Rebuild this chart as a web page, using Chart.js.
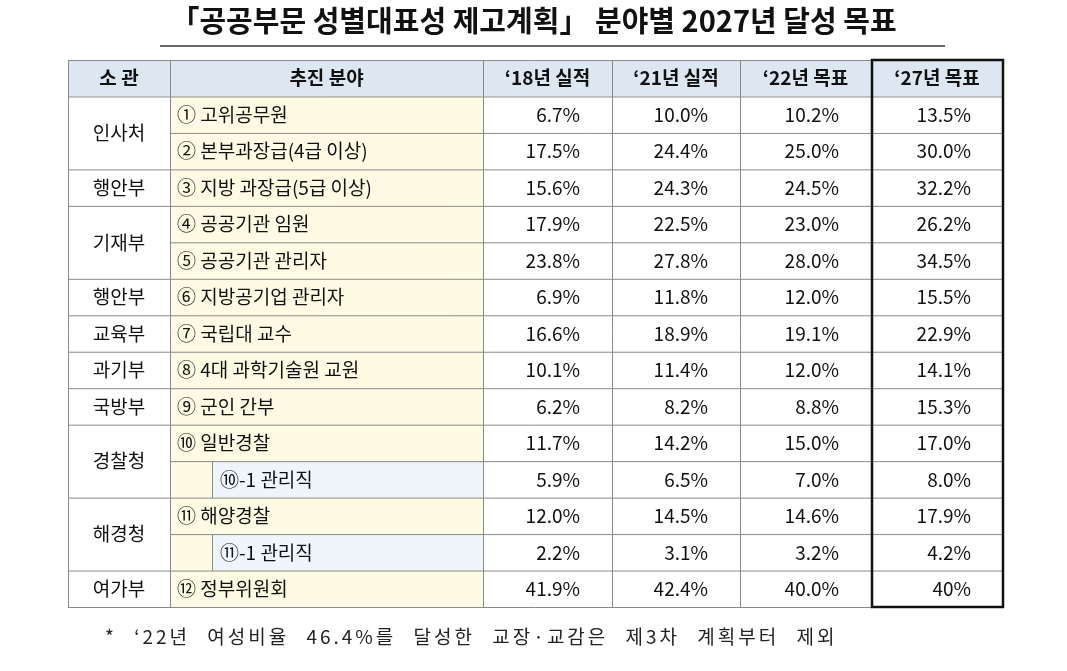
<!DOCTYPE html>
<html>
<head>
<meta charset="utf-8">
<script src="https://cdn.jsdelivr.net/npm/chart.js@4"></script>
<style>
  body { margin: 0; background: #fff; }
  #wrap { width: 1067px; height: 671px; }
</style>
</head>
<body>
<div id="wrap"><canvas id="tbl" width="1067" height="671"></canvas></div>
<script>
// table content
const headers = ['소 관', '추진 분야', '‘18년 실적', '‘21년 실적', '‘22년 목표', '‘27년 목표'];
const agencies = ['인사처', '행안부', '기재부', '행안부', '교육부', '과기부', '국방부', '경찰청', '해경청', '여가부'];
const agencySpans = [2, 1, 2, 1, 1, 1, 1, 2, 2, 1];
const fields = ['① 고위공무원', '② 본부과장급(4급 이상)', '③ 지방 과장급(5급 이상)', '④ 공공기관 임원',
  '⑤ 공공기관 관리자', '⑥ 지방공기업 관리자', '⑦ 국립대 교수', '⑧ 4대 과학기술원 교원', '⑨ 군인 간부',
  '⑩ 일반경찰', '⑩-1 관리직', '⑪ 해양경찰', '⑪-1 관리직', '⑫ 정부위원회'];
const subRow = [0, 0, 0, 0, 0, 0, 0, 0, 0, 0, 1, 0, 1, 0];
const y18 = ['6.7%', '17.5%', '15.6%', '17.9%', '23.8%', '6.9%', '16.6%', '10.1%', '6.2%', '11.7%', '5.9%', '12.0%', '2.2%', '41.9%'];
const y21 = ['10.0%', '24.4%', '24.3%', '22.5%', '27.8%', '11.8%', '18.9%', '11.4%', '8.2%', '14.2%', '6.5%', '14.5%', '3.1%', '42.4%'];
const y22 = ['10.2%', '25.0%', '24.5%', '23.0%', '28.0%', '12.0%', '19.1%', '12.0%', '8.8%', '15.0%', '7.0%', '14.6%', '3.2%', '40.0%'];
const y27 = ['13.5%', '30.0%', '32.2%', '26.2%', '34.5%', '15.5%', '22.9%', '14.1%', '15.3%', '17.0%', '8.0%', '17.9%', '4.2%', '40%'];
const footnote = '* ‘22년 여성비율 46.4%를 달성한 교장·교감은 제3차 계획부터 제외';

// layout (x edges in x-scale units, rows in y-scale units)
const colEdges = [68, 170, 483, 612, 740, 871, 1003];
const FONT = '"Noto Sans CJK KR", "Noto Sans", sans-serif';

const tablePlugin = {
  id: 'tablePlugin',
  afterDraw(chart) {
    const c = chart.ctx, xs = chart.scales.x, ys = chart.scales.y;
    const X = v => xs.getPixelForValue(v);
    const Y = v => ys.getPixelForValue(v);   // row index: -1 = header, 0..13 data
    const n = fields.length;
    c.save();
    // fills
    c.fillStyle = '#dde7f1';
    c.fillRect(X(colEdges[0]), Y(-1), X(colEdges[6]) - X(colEdges[0]), Y(0) - Y(-1));
    for (let i = 0; i < n; i++) {
      c.fillStyle = '#fdfbe3';
      c.fillRect(X(colEdges[1]), Y(i), X(colEdges[2]) - X(colEdges[1]), Y(i + 1) - Y(i));
      if (subRow[i]) {
        c.fillStyle = '#eef5fb';
        c.fillRect(X(212), Y(i), X(colEdges[2]) - X(212), Y(i + 1) - Y(i));
      }
    }
    // grid lines
    c.strokeStyle = '#8a8a8a'; c.lineWidth = 1;
    c.beginPath();
    colEdges.forEach(e => { c.moveTo(X(e) + 0.5, Y(-1)); c.lineTo(X(e) + 0.5, Y(n)); });
    c.moveTo(X(colEdges[0]), Y(-1) + 0.5); c.lineTo(X(colEdges[6]), Y(-1) + 0.5);
    let start = 0;
    agencySpans.forEach(s => {
      for (let k = 0; k < s; k++) {
        const r = start + k + 1;
        const x0 = k === s - 1 ? colEdges[0] : colEdges[1];
        c.moveTo(X(x0), Y(r) + 0.5); c.lineTo(X(colEdges[6]), Y(r) + 0.5);
      }
      start += s;
    });
    c.moveTo(X(colEdges[0]), Y(0) + 0.5); c.lineTo(X(colEdges[6]), Y(0) + 0.5);
    for (let i = 0; i < n; i++) if (subRow[i]) { c.moveTo(X(212) + 0.5, Y(i)); c.lineTo(X(212) + 0.5, Y(i + 1)); }
    c.stroke();
    // heavy box around last column
    c.strokeStyle = '#111'; c.lineWidth = 2.5;
    c.strokeRect(X(colEdges[5]) + 1, Y(-1), X(colEdges[6]) - X(colEdges[5]) - 1, Y(n) - Y(-1));
    // header text
    c.fillStyle = '#111'; c.textBaseline = 'middle';
    c.font = 'bold 19px ' + FONT; c.textAlign = 'center';
    headers.forEach((h, j) => c.fillText(h, (X(colEdges[j]) + X(colEdges[j + 1])) / 2, (Y(-1) + Y(0)) / 2));
    // agencies
    c.font = '19px ' + FONT;
    start = 0;
    agencies.forEach((a, k) => {
      const s = agencySpans[k];
      c.fillText(a, (X(colEdges[0]) + X(colEdges[1])) / 2, (Y(start) + Y(start + s)) / 2);
      start += s;
    });
    // rows
    const vals = [y18, y21, y22, y27];
    for (let i = 0; i < n; i++) {
      const ym = (Y(i) + Y(i + 1)) / 2;
      c.textAlign = 'left';
      c.fillText(fields[i], X(subRow[i] ? 220 : 177), ym);
      c.textAlign = 'right';
      vals.forEach((arr, j) => c.fillText(arr[i], X(colEdges[j + 3]) - 32, ym));
    }
    // title underline + footnote
    c.strokeStyle = '#333'; c.lineWidth = 1.5;
    c.beginPath(); c.moveTo(160, 46); c.lineTo(945, 46); c.stroke();
    c.font = '19px ' + FONT; c.textAlign = 'left'; c.fillStyle = '#222';
    c.letterSpacing = '3px'; c.wordSpacing = '10px';
    c.fillText(footnote, 105, 637);
    c.restore();
  }
};

new Chart(document.getElementById('tbl'), {
  type: 'scatter',
  data: { datasets: [{ data: [], pointRadius: 0 }] },
  options: {
    responsive: false,
    animation: false,
    layout: { padding: 0 },
    plugins: {
      legend: { display: false },
      tooltip: { enabled: false },
      title: {
        display: true,
        text: '「공공부문 성별대표성 제고계획」 분야별 2027년 달성 목표',
        color: '#111',
        font: { family: FONT, size: 29, weight: 'bold' },
        padding: { top: 4, bottom: 0 }
      }
    },
    scales: {
      x: { type: 'linear', min: 0, max: 1067, display: false },
      y: { type: 'linear', min: -1, max: 14, reverse: true, display: false }
    }
  },
  plugins: [tablePlugin, {
    id: 'fixArea',
    afterLayout(chart) {
      // map rows onto table band 60..607 px
      const a = chart.chartArea;
      a.left = 0; a.right = 1067; a.top = 60; a.bottom = 607;
      chart.scales.x.left = 0; chart.scales.x.right = 1067; chart.scales.x.width = 1067;
      const ys = chart.scales.y;
      ys.top = 60; ys.bottom = 607; ys.height = 547;
      ys.configure();
      chart.scales.x.configure();
    }
  }]
});
</script>
</body>
</html>
